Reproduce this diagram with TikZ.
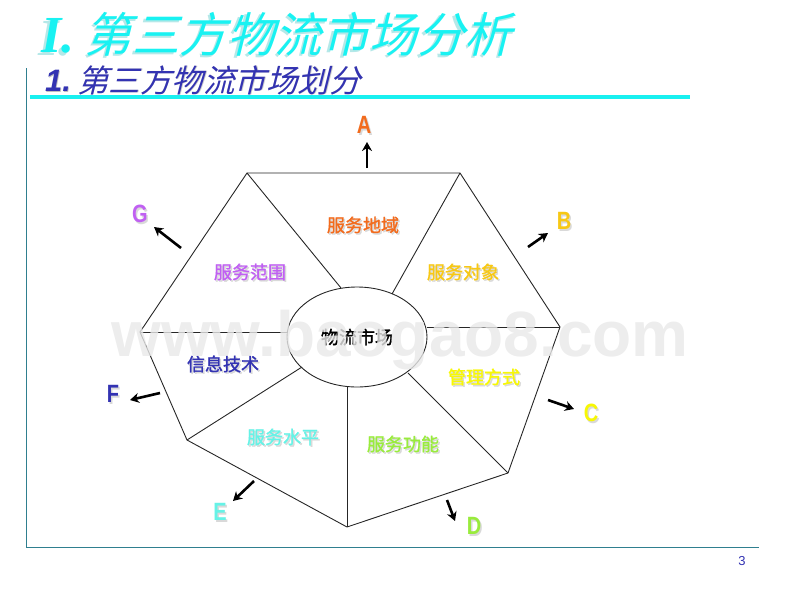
\documentclass[tikz,border=0pt]{standalone}
\usepackage{fontspec}
\setmainfont{Liberation Sans}
\newfontfamily\serifit{Liberation Serif}
\newfontfamily\cjkit[FakeSlant=0.25]{Noto Sans CJK SC}
\newfontfamily\cjkb[FakeBold=1.5]{Noto Sans CJK SC}
\usetikzlibrary{arrows.meta,shapes.geometric}
\definecolor{titlecy}{HTML}{19F2F2}
\definecolor{titlesh}{HTML}{B5E8E8}
\definecolor{subblue}{HTML}{3333B2}
\definecolor{rulecy}{HTML}{19F0F0}
\definecolor{axisteal}{HTML}{2F7F8F}
\definecolor{cA}{HTML}{F26B1D}
\definecolor{cB}{HTML}{F7C815}
\definecolor{cC}{HTML}{F7F705}
\definecolor{cD}{HTML}{99EB3D}
\definecolor{cE}{HTML}{66F2E6}
\definecolor{cF}{HTML}{3333B2}
\definecolor{cG}{HTML}{C060F2}
\tikzset{
  edge/.style={draw=black!85,line width=0.9pt},
  pointer/.style={draw=black,line width=2.6pt,-{Stealth[length=9pt,width=10pt]}},
  seclabel/.style={inner sep=0pt,font=\cjkb\fontsize{18}{18}\selectfont},
  letter/.style={inner sep=0pt,xscale=0.8,font=\bfseries\fontsize{25}{25}\selectfont},
  sername/.style={anchor=west,inner sep=0pt,font=\serifit\bfseries\itshape\fontsize{52}{52}\selectfont},
  maincjk/.style={anchor=west,inner sep=0pt,font=\cjkit\fontsize{47.5}{47.5}\selectfont},
  subnum/.style={anchor=west,inner sep=0pt,font=\bfseries\itshape\fontsize{31}{31}\selectfont},
  subcjk/.style={anchor=west,inner sep=0pt,font=\cjkit\fontsize{31.5}{31.5}\selectfont},
}
\newcommand{\shtext}[5]{% x y style colour text
  \node[#3,text=black!15] at (#1+1.5,#2+1.5) {#5};
  \node[#3,text=#4] (n#1x#2) at (#1,#2) {#5};
}
\begin{document}
\begin{tikzpicture}[x=1pt,y=-1pt]
\useasboundingbox (0,0) rectangle (800,600);
% frame rules
\coordinate (axT) at (26,68);
\coordinate (axB) at (26,547);
\coordinate (axR) at (759,547);
\coordinate (ruleL) at (30,97);
\coordinate (ruleR) at (690,97);
\draw[axisteal,line width=0.8pt] (axT) -- (axB) -- (axR);
\draw[rulecy,line width=3.5pt] (ruleL) -- (ruleR);
% titles
\node[sername,text=titlesh] at (38.5,38.5) {I.};
\node[sername,text=titlecy] (t1) at (41,36) {I.};
\node[maincjk,text=titlesh] at (82,36.5) {第三方物流市场分析};
\node[maincjk,text=titlecy] (t2) at (84.5,34) {第三方物流市场分析};
\node[subnum,text=black!25] at (45.7,81.7) {1.};
\node[subnum,text=subblue] (s1) at (45,81) {1.};
\node[subcjk,text=black!20] at (77.7,80.7) {第三方物流市场划分};
\node[subcjk,text=subblue] (s2) at (77,80) {第三方物流市场划分};
% heptagon
\coordinate (v1) at (247,173);
\coordinate (v2) at (460,173);
\coordinate (v3) at (560,327);
\coordinate (v4) at (508,473);
\coordinate (v5) at (347,527);
\coordinate (v6) at (187,440);
\coordinate (v7) at (140,332);
\draw[edge] (v1) -- (v2) -- (v3) -- (v4) -- (v5) -- (v6) -- (v7) -- cycle;
% hub
\node[draw=black!85,line width=0.9pt,ellipse,minimum width=140pt,minimum height=100pt,inner sep=0pt] (hub) at (357,337) {};
\coordinate (h1) at (341,288);
\coordinate (h2) at (392,294);
\coordinate (h3) at (427,327);
\coordinate (h4) at (408,373);
\coordinate (h5) at (347,387);
\coordinate (h6) at (302,367);
\coordinate (h7) at (287,332);
\foreach \i in {1,...,7} \draw[edge] (v\i) -- (h\i);
\node[inner sep=0pt,font=\cjkb\fontsize{18}{18}\selectfont] (hubt) at (357,337) {物流市场};
% sector labels
\shtext{363}{225}{seclabel}{cA}{服务地域}
\shtext{463}{272}{seclabel}{cB}{服务对象}
\shtext{484}{377}{seclabel}{cC}{管理方式}
\shtext{403}{444}{seclabel}{cD}{服务功能}
\shtext{283}{437}{seclabel}{cE}{服务水平}
\shtext{223}{364}{seclabel}{cF}{信息技术}
\shtext{250}{272}{seclabel}{cG}{服务范围}
% letters
\shtext{364}{125}{letter}{cA}{A}
\shtext{564}{221}{letter}{cB}{B}
\shtext{591}{413}{letter}{cC}{C}
\shtext{474}{526}{letter}{cD}{D}
\shtext{220}{512}{letter}{cE}{E}
\shtext{113}{394}{letter}{cF}{F}
\shtext{140}{214}{letter}{cG}{G}
% arrows
\coordinate (a1) at (367,168); \coordinate (b1) at (367,142);
\coordinate (a2) at (528,247); \coordinate (b2) at (548,233);
\coordinate (a3) at (548,400); \coordinate (b3) at (574,409);
\coordinate (a4) at (447,500); \coordinate (b4) at (455,521);
\coordinate (a5) at (254,481); \coordinate (b5) at (233,501);
\coordinate (a6) at (160,393); \coordinate (b6) at (130,400);
\coordinate (a7) at (181,248); \coordinate (b7) at (154,227);
\foreach \i in {1,...,7} \draw[pointer] (a\i) -- (b\i);
% page number
\node[inner sep=0pt,text=subblue,font=\fontsize{13}{13}\selectfont] (pg) at (742,561) {3};
% watermark, laid over the drawing
\node[inner sep=0pt,text=black!9,text opacity=0.8,font=\bfseries\fontsize{64}{64}\selectfont] (wm) at (400,340) {www.baogao8.com};
\end{tikzpicture}
\end{document}
